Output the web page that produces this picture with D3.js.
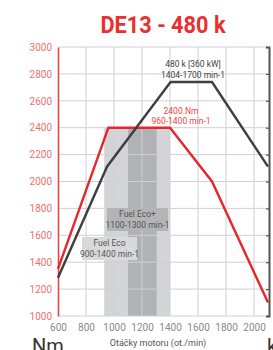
<!DOCTYPE html>
<html><head><meta charset="utf-8">
<script src="https://cdn.jsdelivr.net/npm/d3@7/dist/d3.min.js"></script>
<style>
html,body{margin:0;padding:0;background:#fff;}
svg{display:block;}
text{font-family:Roboto,"Liberation Sans",sans-serif;}
</style></head>
<body><svg id="c" width="273" height="350"></svg>
<script>
const title = "DE13 - 480 k";
const yTicks = [1000,1200,1400,1600,1800,2000,2200,2400,2600,2800,3000];
const xTicks = [600,800,1000,1200,1400,1600,1800,2000];
const torqueRpm = [600,960,1400,1700,2100];
const torqueVal = [1350,2400,2400,2000,1100];
const powerRpm = [600,950,1404,1700,2100];
const powerVal = [1285,2110,2740,2740,2110];
const bandNames = ["Fuel Eco","Fuel Eco+"];
const bandFrom = [930,1100];
const bandTo = [1400,1305];
const bandTop = [2400,2400];
const xLabel = "Otáčky motoru (ot./min)";
const yLabel = "Nm";
const y2Label = "kW";

const svg = d3.select("#c");
const x = d3.scaleLinear().domain([600,2100]).range([58,268]);
const y = d3.scaleLinear().domain([1000,3000]).range([316,47]);

// title
svg.append("text").attr("x",163).attr("y",33).attr("text-anchor","middle")
  .attr("font-size",23).attr("font-weight","bold").attr("fill","#e8302e")
  .attr("textLength",125).attr("lengthAdjust","spacingAndGlyphs").text(title);

// bands
const bandFill = ["#d3d4d7","#b1b2b5"];
bandNames.forEach((n,i)=>{
  svg.append("rect").attr("x",x(bandFrom[i])).attr("y",y(bandTop[i]))
    .attr("width",x(bandTo[i])-x(bandFrom[i])).attr("height",y(1000)-y(bandTop[i]))
    .attr("fill",bandFill[i]);
});

// grid
const g = svg.append("g");
g.selectAll(".hg").data(yTicks).join("line")
  .attr("x1",x(600)).attr("x2",x(2100)).attr("y1",d=>y(d)).attr("y2",d=>y(d))
  .attr("stroke","#cfd0d6").attr("stroke-width",1);
g.selectAll(".vg").data(xTicks.filter(d=>d>600)).join("line")
  .attr("x1",d=>x(d)).attr("x2",d=>x(d)).attr("y1",y(3000)).attr("y2",y(1000))
  .attr("stroke","#cfd0d6").attr("stroke-width",1);

// left axis
const ax = svg.append("g").attr("transform",`translate(${x(600)},0)`)
  .call(d3.axisLeft(y).tickValues(yTicks).tickSize(0).tickPadding(6).tickFormat(d3.format("d")));
ax.select(".domain").attr("stroke","#e8403c").attr("stroke-width",1.5);
ax.selectAll("text").attr("fill","#f07070").attr("font-size",10).attr("font-family","Roboto,sans-serif");

// right axis
const ar = svg.append("g").attr("transform",`translate(${x(2100)+1},0)`)
  .call(d3.axisLeft(y).tickValues(yTicks).tickSize(3).tickFormat(""));
ar.select(".domain").attr("stroke","#555").attr("stroke-width",2);
ar.selectAll(".tick line").attr("stroke","#555").attr("stroke-width",1.2);

// bottom labels
const bx = svg.append("g").attr("transform",`translate(0,${y(1000)})`)
  .call(d3.axisBottom(x).tickValues(xTicks).tickSize(0).tickPadding(8).tickFormat(d3.format("d")));
bx.select(".domain").remove();
bx.selectAll("text").attr("fill","#8a8a8a").attr("font-size",10).attr("font-family","Roboto,sans-serif");

// lines
const line = d3.line().x(d=>x(d[0])).y(d=>y(d[1]));
svg.append("path").datum(torqueRpm.map((r,i)=>[r,torqueVal[i]]))
  .attr("d",line).attr("fill","none").attr("stroke","#e8262a").attr("stroke-width",2.4);
svg.append("path").datum(powerRpm.map((r,i)=>[r,powerVal[i]]))
  .attr("d",line).attr("fill","none").attr("stroke","#3f3f42").attr("stroke-width",2.4);

// label boxes
const boxes = [
  {x0:82,y0:237,x1:137,y1:260,fill:"#d9d9dc",l1:"Fuel Eco",l2:"900-1400 min-1"},
  {x0:107,y0:208,x1:168,y1:231,fill:"#b4b4b7",l1:"Fuel Eco+",l2:"1100-1300 min-1"}
];
boxes.forEach(b=>{
  svg.append("rect").attr("x",b.x0).attr("y",b.y0).attr("width",b.x1-b.x0).attr("height",b.y1-b.y0).attr("fill",b.fill);
  const cx=(b.x0+b.x1)/2;
  svg.append("text").attr("x",cx).attr("y",b.y0+9).attr("text-anchor","middle").attr("font-size",8.5).attr("fill","#555").text(b.l1);
  svg.append("text").attr("x",cx).attr("y",b.y0+20).attr("text-anchor","middle").attr("font-size",8.5).attr("fill","#555").text(b.l2);
});

// annotations
svg.append("text").attr("x",193).attr("y",67).attr("text-anchor","middle").attr("font-size",8.5).attr("fill","#444").text("480 k [360 kW]");
svg.append("text").attr("x",193).attr("y",78).attr("text-anchor","middle").attr("font-size",8.5).attr("fill","#444").text("1404-1700 min-1");
svg.append("text").attr("x",181).attr("y",114).attr("text-anchor","middle").attr("font-size",8.5).attr("fill","#f04444").text("2400.Nm");
svg.append("text").attr("x",181).attr("y",124).attr("text-anchor","middle").attr("font-size",8.5).attr("fill","#f04444").text("960-1400 min-1");

// axis titles
svg.append("text").attr("x",158).attr("y",346).attr("text-anchor","middle").attr("font-size",9).attr("fill","#555").text(xLabel);
svg.append("text").attr("x",32).attr("y",353).attr("font-size",20).attr("fill","#333").text(yLabel);
svg.append("text").attr("x",267).attr("y",353).attr("font-size",20).attr("fill","#333").text(y2Label);
</script></body></html>
